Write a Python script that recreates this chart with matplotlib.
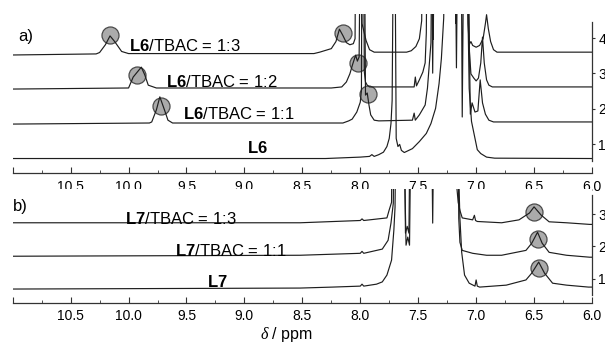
import matplotlib.pyplot as plt
from matplotlib.ticker import MultipleLocator

plt.rcParams['font.family'] = 'Liberation Sans'
plt.rcParams['mathtext.fontset'] = 'custom'
plt.rcParams['mathtext.rm'] = 'Liberation Sans'
plt.rcParams['mathtext.bf'] = 'Liberation Sans:bold'
plt.rcParams['mathtext.it'] = 'Liberation Serif:italic'

# x ticks (ppm)
ppm_ticks = [11.0, 10.5, 10.0, 9.5, 9.0, 8.5, 8.0, 7.5, 7.0, 6.5, 6.0]
ppm_labels = ['', '10.5', '10.0', '9.5', '9.0', '8.5', '8.0', '7.5', '7.0', '6.5', '6.0']

# ---- panel a: L6 titration (heights above each baseline, 6 = off scale) ----
L6_ppm = [11.0, 8.30, 8.00, 7.92, 7.90, 7.88, 7.84, 7.80, 7.77, 7.75, 7.735, 7.725, 7.715,
          7.700, 7.690, 7.675, 7.660, 7.645, 7.620, 7.550, 7.490, 7.430, 7.390, 7.350, 7.320,
          7.300, 7.280, 7.270, 7.080, 7.060, 7.040, 7.010, 6.990, 6.960, 6.910, 6.840, 6.00]
L6_h = [0, 0, 0.04, 0.06, 0.11, 0.06, 0.11, 0.18, 0.34, 0.57, 0.99, 1.64, 6,
        6, 0.57, 0.34, 0.40, 0.23, 0.17, 0.28, 0.48, 0.71, 0.99, 1.42, 2.12,
        2.83, 3.97, 6, 6, 1.98, 1.05, 0.57, 0.25, 0.14, 0.04, 0.01, 0]

L6_11_ppm = [11.0, 9.82, 9.80, 9.76, 9.73, 9.69, 9.66, 9.62, 8.15, 8.10, 8.07, 8.03, 8.00,
             7.99, 7.985, 7.965, 7.955, 7.94, 7.925, 7.91, 7.88, 7.84, 7.55, 7.535, 7.525,
             7.49, 7.44, 7.42, 7.39, 7.38, 7.13, 7.12, 7.105, 7.075, 7.05, 7.035, 7.01,
             6.985, 6.965, 6.945, 6.92, 6.89, 6.85, 6.0]
L6_11_h = [-0.03, 0, 0.03, 0.37, 0.74, 0.37, 0.08, 0, 0, 0.06, 0.11, 0.31, 0.59,
           0.93, 6, 6, 0.79, 0.85, 0.51, 0.23, 0.08, 0.06, 0.08, 0.28, 0.08,
           0.23, 0.51, 0.99, 2.27, 6, 6, 0.17, 6, 6, 0.25, 0.57, 0.31,
           0.34, 1.22, 0.57, 0.25, 0.08, 0.03, 0.03]

L6_12_ppm = [11.0, 10.0, 9.96, 9.89, 9.86, 9.83, 9.76, 8.25, 8.16, 8.12, 8.09, 8.065, 8.04,
             8.025, 8.01, 7.995, 7.975, 7.965, 7.955, 7.94, 7.92, 7.60, 7.535, 7.525, 7.515,
             7.49, 7.46, 7.44, 7.43, 7.42, 7.39, 7.375, 7.36, 7.185, 7.17, 7.155, 7.08,
             7.06, 7.045, 7.02, 7.00, 6.98, 6.96, 6.945, 6.93, 6.91, 6.89, 6.86, 6.0]
L6_12_h = [-0.03, 0, 0.31, 0.59, 0.37, 0.08, 0, 0, 0.03, 0.17, 0.40, 0.68, 0.93,
           0.76, 0.88, 6, 6, 0.45, 0.17, 0.08, 0.03, 0.03, 0.03, 0.31, 0.06,
           0.23, 0.45, 0.71, 1.56, 6, 6, 0.42, 6, 6, 0.57, 6, 6,
           1.13, 0.40, 0.28, 0.20, 0.28, 0.71, 1.44, 0.71, 0.23, 0.08, 0.03, 0.03]

L6_13_ppm = [11.0, 10.28, 10.25, 10.20, 10.16, 10.12, 10.06, 10.0, 8.40, 8.35, 8.25, 8.21,
             8.18, 8.15, 8.12, 8.09, 8.06, 8.045, 8.035, 8.005, 7.985, 7.95, 7.92, 7.88,
             7.60, 7.56, 7.52, 7.49, 7.47, 7.455, 7.385, 7.37, 7.355, 7.19, 7.175, 7.16,
             7.09, 7.07, 7.06, 7.045, 7.03, 7.00, 6.97, 6.94, 6.92, 6.91, 6.895, 6.875,
             6.85, 6.82, 6.0]
L6_13_h = [-0.04, -0.01, 0.03, 0.25, 0.50, 0.34, 0.06, 0, 0, 0.04, 0.14, 0.34,
           0.69, 0.51, 0.31, 0.25, 0.28, 0.42, 6, 6, 0.85, 0.37, 0.11, 0.04,
           0.04, 0.08, 0.20, 0.42, 0.93, 6, 6, 0.40, 6, 6, 0.85, 6,
           6, 0.85, 0.25, 0.34, 0.23, 0.18, 0.23, 0.42, 0.85, 1.10, 0.71, 0.34,
           0.11, 0.04, 0.04]

a_ppm = [L6_ppm, L6_11_ppm, L6_12_ppm, L6_13_ppm]
a_h = [L6_h, L6_11_h, L6_12_h, L6_13_h]
a_offsets = [0.59, 1.595, 2.586, 3.56]
a_labels = [r'$\mathbf{L6}$', r'$\mathbf{L6}$/TBAC = 1:1',
            r'$\mathbf{L6}$/TBAC = 1:2', r'$\mathbf{L6}$/TBAC = 1:3']
a_label_ppm = [8.98, 9.53, 9.68, 10.00]
a_label_y = [0.745, 1.71, 2.61, 3.63]
a_circ_ppm = [10.16, 9.93, 9.72, 8.15, 8.02, 7.93]
a_circ_y = [4.09, 2.95, 2.08, 4.14, 3.29, 2.42]

# ---- panel b: L7 titration ----
L7_ppm = [11.0, 8.52, 8.24, 8.0, 7.985, 7.97, 7.86, 7.81, 7.77, 7.73, 7.71, 7.70, 7.69,
          7.63, 7.605, 7.59, 7.575, 7.56, 7.17, 7.14, 7.125, 7.10, 7.06, 7.01, 7.00,
          6.99, 6.97, 6.74, 6.57, 6.52, 6.46, 6.41, 6.34, 6.22, 6.03, 6.0]
L7_h = [0, 0.03, 0.06, 0.09, 0.15, 0.09, 0.15, 0.22, 0.43, 0.89, 1.82, 2.52, 6,
        6, 1.35, 1.60, 1.35, 6, 6, 2.18, 1.14, 0.43, 0.18, 0.09, 0.28,
        0.09, 0.06, 0.12, 0.28, 0.49, 0.83, 0.49, 0.18, 0.12, 0.06, 0.06]

L7_11_ppm = [11.0, 8.52, 8.0, 7.985, 7.97, 7.81, 7.76, 7.735, 7.715, 7.705, 7.625, 7.61,
             7.595, 7.58, 7.565, 7.39, 7.375, 7.36, 7.16, 7.15, 7.14, 7.12, 7.06, 7.03,
             6.91, 6.78, 6.57, 6.52, 6.47, 6.43, 6.37, 6.22, 6.02, 6.0]
L7_11_h = [0, 0.03, 0.09, 0.15, 0.09, 0.22, 0.49, 1.02, 1.63, 6, 6, 0.71,
           0.92, 0.71, 6, 6, 1.02, 6, 6, 1.17, 0.43, 0.18, 0.12, 0.09,
           0.03, 0.03, 0.18, 0.40, 0.74, 0.40, 0.12, 0.03, -0.03, -0.03]

L7_13_ppm = [11.0, 8.52, 8.0, 7.985, 7.97, 7.77, 7.75, 7.73, 7.72, 7.18, 7.165, 7.155,
             7.14, 7.12, 7.03, 7.015, 7.005, 6.99, 6.78, 6.63, 6.54, 6.50, 6.44, 6.37,
             6.22, 6.02, 6.0]
L7_13_h = [0.05, 0.05, 0.12, 0.17, 0.12, 0.20, 0.45, 0.68, 6, 6, 1.08, 0.68,
           0.43, 0.20, 0.14, 0.28, 0.12, 0.09, 0.05, 0.14, 0.35, 0.54, 0.29, 0.08,
           0.05, 0, 0]

b_ppm = [L7_ppm, L7_11_ppm, L7_13_ppm]
b_h = [L7_h, L7_11_h, L7_13_h]
b_offsets = [0.69, 1.70, 2.68]
b_labels = [r'$\mathbf{L7}$', r'$\mathbf{L7}$/TBAC = 1:1', r'$\mathbf{L7}$/TBAC = 1:3']
b_label_ppm = [9.32, 9.60, 10.03]
b_label_y = [0.75, 1.71, 2.69]
b_circ_ppm = [6.50, 6.47, 6.46]
b_circ_y = [3.06, 2.23, 1.34]

line_col = '#1e1e1e'

fig = plt.figure(figsize=(6.05, 3.43), dpi=100)
ax_a = fig.add_axes([0.021, 0.4956, 0.9575, 0.4636])
ax_b = fig.add_axes([0.021, 0.1166, 0.9575, 0.3324])


def style(ax, ylim, bounds, yticks, pad):
    ax.set_xlim(11.0, 6.0)
    ax.set_ylim(*ylim)
    ax.spines['left'].set_visible(False)
    ax.spines['top'].set_visible(False)
    ax.spines['right'].set_bounds(*bounds)
    for s in ['right', 'bottom']:
        ax.spines[s].set_color('#333333')
        ax.spines[s].set_linewidth(0.9)
    ax.set_xticks(ppm_ticks, ppm_labels)
    ax.xaxis.set_minor_locator(MultipleLocator(0.25))
    ax.tick_params(axis='x', which='both', direction='in', labelsize=10,
                   pad=pad, color='#333333')
    ax.tick_params(axis='x', which='major', length=4)
    ax.tick_params(axis='x', which='minor', length=2.5)
    ax.yaxis.set_ticks_position('right')
    ax.set_yticks(yticks, [str(t) for t in yticks])
    ax.tick_params(axis='y', direction='out', length=2.5, labelsize=10,
                   pad=2.0, color='#333333')


style(ax_a, (0.18, 4.68), (0.52, 4.46), [1, 2, 3, 4], 5)
style(ax_b, (0.26, 3.77), (0.51, 3.58), [1, 2, 3], 4.5)

for ax, ppms, hs, offs, labs, lx, ly, cx, cy in [
        (ax_a, a_ppm, a_h, a_offsets, a_labels, a_label_ppm, a_label_y, a_circ_ppm, a_circ_y),
        (ax_b, b_ppm, b_h, b_offsets, b_labels, b_label_ppm, b_label_y, b_circ_ppm, b_circ_y)]:
    ax.scatter(cx, cy, s=150, facecolor='#ababab', edgecolor='#4a4a4a',
               linewidths=0.9, zorder=1)
    for p, h, off in zip(ppms, hs, offs):
        ax.plot(p, [off + v for v in h], color=line_col, lw=0.85, zorder=2)
    for t, x, y in zip(labs, lx, ly):
        ax.text(x, y, t, fontsize=12, ha='left', va='baseline', zorder=3)

ax_a.text(10.95, 3.92, 'a)', fontsize=12, ha='left', va='baseline')
ax_b.text(11.0, 3.09, 'b)', fontsize=12, ha='left', va='baseline')

ax_b.set_xlabel(r'$\delta$ / ppm', fontsize=11.5)
ax_b.xaxis.set_label_coords(0.472, -0.19)

fig.savefig('out.png', dpi=100)
